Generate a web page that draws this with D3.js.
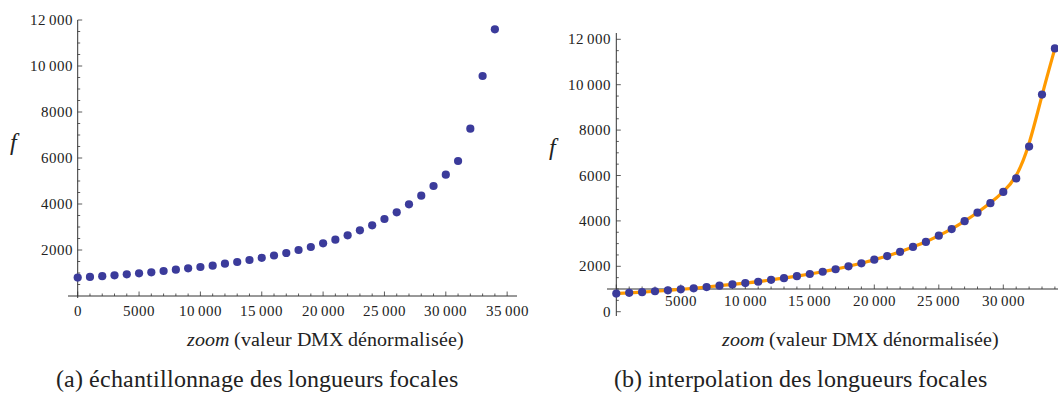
<!DOCTYPE html>
<html>
<head>
<meta charset="utf-8">
<script src="https://cdn.jsdelivr.net/npm/d3@7"></script>
<style>
  @font-face { font-family: "ChartSerif"; font-style: normal; src: local("Liberation Serif"), local("LiberationSerif"); }
  @font-face { font-family: "ChartSerif"; font-style: italic; src: local("Liberation Serif Italic"), local("LiberationSerif-Italic"); }
  html, body { margin: 0; padding: 0; background: #fff; }
  svg { display: block; }
  svg text, svg tspan { font-family: "ChartSerif", "Liberation Serif", "DejaVu Serif" !important; }
</style>
</head>
<body>
<svg id="fig" width="1058" height="399" style="font-family: 'Liberation Serif'"></svg>
<script>
// Sampled DMX zoom values and the measured focal lengths
const zoomValues = d3.range(0, 35000, 1000);
const focalValues = [
  800, 830, 860, 900, 942, 986, 1029, 1087, 1145, 1203,
  1261, 1319, 1406, 1478, 1565, 1660, 1760, 1870, 2000, 2130,
  2290, 2450, 2638, 2855, 3072, 3348, 3638, 3986, 4362, 4783,
  5275, 5870, 7275, 9565, 11596
];
const xTicksLeft = [0, 5000, 10000, 15000, 20000, 25000, 30000, 35000];
const xTicksRight = [5000, 10000, 15000, 20000, 25000, 30000];
const yTicksLeft = [2000, 4000, 6000, 8000, 10000, 12000];
const yTicksRight = [0, 2000, 4000, 6000, 8000, 10000, 12000];
const axisTitle = "(valeur DMX dénormalisée)";
const captionA = "(a) échantillonnage des longueurs focales";
const captionB = "(b) interpolation des longueurs focales";

const points = zoomValues.map((z, i) => ({ z, f: focalValues[i] }));
const svg = d3.select("#fig");
const DOT = "#3b3b9b";
const CURVE = "#ff9a00";
const AXIS = "#333";
const TEXT = "#222";

// thousands separated by a thin space, as in 12 000
const fmt = v => v >= 10000 ? String(v).replace(/(\d)(\d{3})$/, "$1\u2009$2") : String(v);

function label(sel) {
  return sel.attr("fill", TEXT);
}

function drawPanel(opt) {
  const x = d3.scaleLinear().domain(opt.xDomain).range(opt.xRange);
  const y = d3.scaleLinear().domain(opt.yDomain).range(opt.yRange);
  const yAxisPx = x(0);
  const xAxisPx = y(opt.xAxisAt);

  // axis lines
  svg.append("line").attr("x1", opt.xAxisStart).attr("x2", opt.xAxisEnd)
    .attr("y1", xAxisPx).attr("y2", xAxisPx).attr("stroke", AXIS).attr("stroke-width", 1);
  svg.append("line").attr("x1", yAxisPx).attr("x2", yAxisPx)
    .attr("y1", opt.yAxisTop).attr("y2", opt.yAxisBottom).attr("stroke", AXIS).attr("stroke-width", 1);

  // x ticks: major every 5000, minor every 1000, pointing up
  const xMinor = d3.range(0, opt.xDomain[1] + 1, 1000);
  svg.selectAll(null).data(xMinor).join("line")
    .attr("x1", d => x(d)).attr("x2", d => x(d))
    .attr("y1", xAxisPx).attr("y2", d => xAxisPx - (d % 5000 === 0 ? 4.5 : 2.5))
    .attr("stroke", AXIS).attr("stroke-width", 0.8);
  svg.selectAll(null).data(opt.xTicks).join("text")
    .call(label)
    .attr("x", d => x(d)).attr("y", opt.xLabelY)
    .attr("text-anchor", "middle").attr("font-size", 15).text(fmt);

  // y ticks: major every 2000, minor every 500, pointing right
  const yMinor = d3.range(opt.yMinorStart, opt.yDomain[1] + 1, 500);
  svg.selectAll(null).data(yMinor).join("line")
    .attr("x1", yAxisPx).attr("x2", d => yAxisPx + (d % 2000 === 0 ? 4.5 : 2.5))
    .attr("y1", d => y(d)).attr("y2", d => y(d))
    .attr("stroke", AXIS).attr("stroke-width", 0.8);
  svg.selectAll(null).data(opt.yTicks).join("text")
    .call(label)
    .attr("x", yAxisPx - 5).attr("y", d => y(d) + 5)
    .attr("text-anchor", "end").attr("font-size", 15).text(fmt);

  // fitted curve
  if (opt.curve) {
    svg.append("path").datum(points)
      .attr("fill", "none").attr("stroke", CURVE).attr("stroke-width", 3.2)
      .attr("d", d3.line().x(d => x(d.z)).y(d => y(d.f)).curve(d3.curveBasis));
  }

  // samples
  svg.selectAll(null).data(points).join("circle")
    .attr("cx", d => x(d.z)).attr("cy", d => y(d.f)).attr("r", 4.1)
    .attr("fill", DOT);

  // axis titles
  svg.append("text").call(label).attr("x", opt.fX).attr("y", opt.fY)
    .attr("font-size", 24).style("font-style", "italic").text("f");
  const t = svg.append("text").call(label).attr("x", opt.titleX).attr("y", opt.titleY)
    .attr("text-anchor", "middle").attr("font-size", 20);
  t.append("tspan").style("font-style", "italic").text("zoom");
  t.append("tspan").text(" " + axisTitle);

  // caption
  svg.append("text").call(label).attr("x", opt.capX).attr("y", 387)
    .attr("text-anchor", "middle").attr("font-size", 24).text(opt.caption);
}

drawPanel({
  xDomain: [0, 35000], xRange: [77.7, 77.7 + 35 * 12.27],
  yDomain: [0, 12000], yRange: [296, 20],
  xAxisAt: 0, xAxisStart: 68, xAxisEnd: 517,
  yAxisTop: 20, yAxisBottom: 298,
  yMinorStart: 500,
  xTicks: xTicksLeft, yTicks: yTicksLeft, xLabelY: 316,
  curve: false,
  fX: 10, fY: 150, titleX: 325, titleY: 346,
  capX: 257, caption: captionA
});

drawPanel({
  xDomain: [0, 34000], xRange: [616.3, 616.3 + 34 * 12.9],
  yDomain: [0, 12000], yRange: [311.7, 311.7 - 12 * 22.7],
  xAxisAt: 1000, xAxisStart: 607, xAxisEnd: 1058,
  yAxisTop: 33, yAxisBottom: 316,
  yMinorStart: 0,
  xTicks: xTicksRight, yTicks: yTicksRight, xLabelY: 306,
  curve: true,
  fX: 549, fY: 155, titleX: 860, titleY: 346,
  capX: 800, caption: captionB
});
</script>
</body>
</html>
